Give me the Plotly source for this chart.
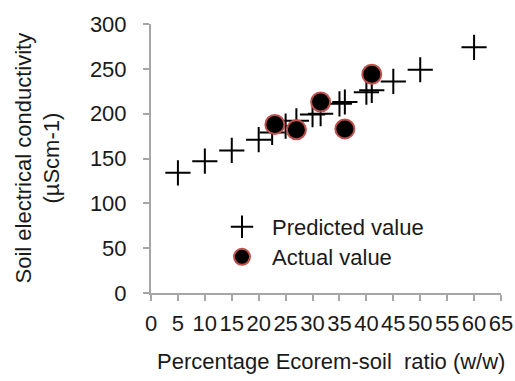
import plotly.graph_objects as go

# Data
pred_x = [5, 10, 15, 20, 22.5, 25, 27, 30, 31.5, 35, 36, 40, 41, 45, 50, 60]
pred_y = [134, 147, 159, 171, 179, 186, 192, 199, 200, 211, 213, 224, 226, 236, 249, 274]
act_x = [23, 27, 31.5, 36, 41]
act_y = [188, 182, 213, 183, 244]

x_ticks = list(range(0, 70, 5))
y_ticks = list(range(0, 350, 50))

FONT = "Liberation Sans, Arial, sans-serif"
FS = 22

fig = go.Figure()
fig.add_trace(go.Scatter(
    x=pred_x, y=pred_y, mode="markers", name="Predicted value", legend="legend",
    marker=dict(symbol="cross-thin", size=18, color="black",
                line=dict(color="black", width=2)),
))
fig.add_trace(go.Scatter(
    x=act_x, y=act_y, mode="markers", name="Actual value", legend="legend2",
    marker=dict(symbol="circle", size=19, color="black",
                line=dict(color="#c0504d", width=2)),
))

leg_common = dict(x=(212 - 151) / 350, xanchor="left", yanchor="middle",
                  bgcolor="rgba(0,0,0,0)", font=dict(size=FS), itemwidth=50)

fig.update_layout(
    width=515, height=381,
    margin=dict(l=151, r=14, t=24, b=88, autoexpand=False),
    paper_bgcolor="white", plot_bgcolor="white",
    font=dict(family=FONT, size=FS, color="#1a1a1a"),
    showlegend=True,
    legend=dict(y=(293 - 227) / 269, **leg_common),
    legend2=dict(y=(293 - 257) / 269, **leg_common),
    xaxis=dict(range=[0, 65], tickvals=x_ticks, showgrid=False, zeroline=False,
               showline=True, linecolor="#a6a6a6", linewidth=2,
               ticks="outside", ticklen=6, tickcolor="#a6a6a6", tickwidth=2,
               tickangle=0, automargin=False,
               ticklabelstandoff=4, fixedrange=True),
    yaxis=dict(range=[0, 300], tickvals=y_ticks, showgrid=False, zeroline=False,
               showline=True, linecolor="#a6a6a6", linewidth=2,
               ticks="outside", ticklen=6, tickcolor="#a6a6a6", tickwidth=2,
               automargin=False,
               ticklabelstandoff=12, fixedrange=True),
    annotations=[
        dict(text="Soil electrical conductivity<br>(µScm-1)", textangle=-90,
             xref="paper", yref="paper", x=(37 - 151) / 350, y=0.5,
             xanchor="center", yanchor="middle", showarrow=False,
             font=dict(size=FS)),
        dict(text="Percentage Ecorem-soil  ratio (w/w)",
             xref="paper", yref="paper", x=(331 - 151) / 350, y=-(361 - 293) / 269,
             xanchor="center", yanchor="middle", showarrow=False,
             font=dict(size=FS)),
    ],
)

# remove the default page margin so the 515x381 figure fills the window exactly
fig.write_html(
    "out.html",
    config={"displayModeBar": False},
    post_script="document.documentElement.style.overflow='hidden';"
                "document.body.style.margin='0';document.body.style.overflow='hidden';",
)
